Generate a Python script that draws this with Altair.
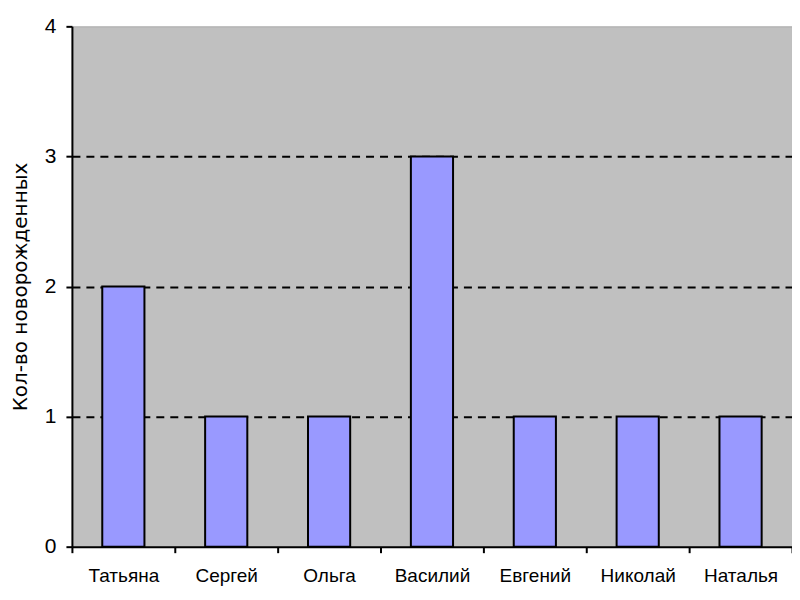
import altair as alt
import pandas as pd

names = ["Татьяна", "Сергей", "Ольга", "Василий", "Евгений", "Николай", "Наталья"]
counts = [2, 1, 1, 3, 1, 1, 1]

df = pd.DataFrame({"name": names, "count": counts})

chart = alt.Chart(df).mark_bar(
    color="#9999FF", stroke="#000000", strokeWidth=2,
    width=alt.RelativeBandSize(0.41)
).encode(
    x=alt.X("name:N", sort=names, title=None,
            scale=alt.Scale(paddingInner=0, paddingOuter=0),
            axis=alt.Axis(labelAngle=0, tickBand="extent", labelFont="Liberation Sans",
                          labelFontSize=19, labelColor="#000000", labelPadding=14,
                          domainColor="#000000", domainWidth=2, tickColor="#000000",
                          tickWidth=2, tickSize=6, grid=False)),
    y=alt.Y("count:Q", title="Кол-во новорожденных",
            scale=alt.Scale(domain=[0, 4], nice=False),
            axis=alt.Axis(values=[0, 1, 2, 3, 4], format="d", labelFont="Liberation Sans",
                          labelFontSize=21, labelColor="#000000", labelPadding=10,
                          domainColor="#000000", domainWidth=2, tickColor="#000000",
                          tickWidth=2, tickSize=6,
                          titleFont="DejaVu Sans", titleFontSize=20, titleFontWeight="normal",
                          titleColor="#000000", titlePadding=14,
                          grid=True, gridColor="#000000", gridDash=[8, 6], gridWidth=2,
                          gridOpacity=alt.ExprRef("datum.value > 0 && datum.value < 4 ? 1 : 0"))),
).properties(
    width=721, height=521,
    padding={"left": 64, "top": 18, "right": 0, "bottom": 40},
    autosize="none",
).configure_view(
    fill="#C0C0C0", stroke="#A8A8A8", strokeWidth=1
)

chart.save("out.html", embed_options={"renderer": "svg", "actions": False})
